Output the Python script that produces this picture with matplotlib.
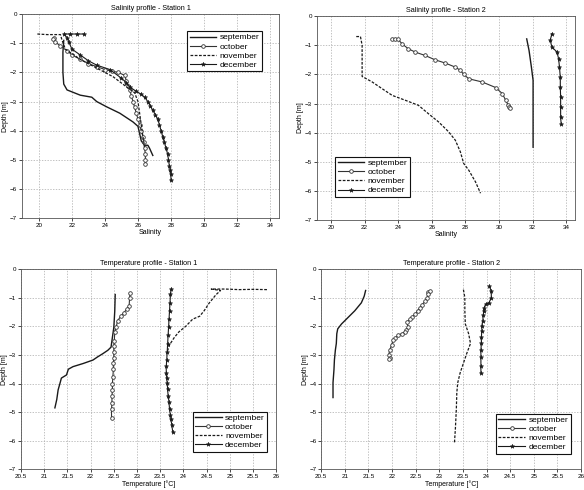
import matplotlib.pyplot as plt

plt.rcParams['font.family'] = ['Liberation Sans', 'DejaVu Sans']

MONTHS = ["september", "october", "november", "december"]

# Salinity profile - Station 1 (salinity, depth)
sal1_sep_x = [21.5, 21.45, 21.45, 21.5, 21.7, 22.5, 23.2, 23.5, 24.1, 24.9, 25.7, 26.0, 26.1, 26.2, 26.4, 26.6, 26.7, 26.9]
sal1_sep_d = [-0.9, -1.3, -2.0, -2.4, -2.6, -2.78, -2.85, -3.0, -3.18, -3.4, -3.7, -3.85, -4.1, -4.35, -4.5, -4.5, -4.6, -4.85]
sal1_oct_x = [20.9, 20.85, 21.0, 21.3, 21.7, 22.0, 22.5, 23.0, 23.5, 24.0, 24.4, 24.8, 25.2, 25.3, 25.4, 25.5, 25.6, 25.7, 25.8, 25.9, 26.0, 26.1, 26.2, 26.3, 26.35, 26.4, 26.45, 26.45, 26.45]
sal1_oct_d = [-0.8, -0.85, -0.95, -1.1, -1.25, -1.4, -1.55, -1.7, -1.8, -1.9, -1.95, -2.0, -2.1, -2.3, -2.45, -2.6, -2.8, -3.0, -3.2, -3.4, -3.6, -3.8, -4.0, -4.2, -4.4, -4.6, -4.8, -5.0, -5.15]
sal1_nov_x = [19.9, 20.5, 21.0, 21.3, 21.4, 21.6, 22.5, 23.5, 24.5, 25.2, 25.8, 26.0, 26.1, 26.2, 26.3, 26.4]
sal1_nov_d = [-0.68, -0.7, -0.7, -0.7, -0.9, -1.2, -1.55, -1.85, -2.15, -2.45, -2.7, -3.0, -3.4, -3.8, -4.2, -4.55]
sal1_dec_x = [22.7, 22.3, 21.9, 21.5, 21.7, 21.8, 22.0, 22.5, 23.0, 23.5, 24.3, 25.0, 25.3, 25.5, 25.9, 26.2, 26.4, 26.6, 26.75, 26.9, 27.05, 27.2, 27.3, 27.4, 27.5, 27.6, 27.7, 27.8, 27.85, 27.9, 27.95, 28.0, 28.0]
sal1_dec_d = [-0.68, -0.68, -0.68, -0.68, -0.8, -0.95, -1.2, -1.4, -1.6, -1.75, -1.9, -2.2, -2.35, -2.5, -2.65, -2.75, -2.85, -3.0, -3.15, -3.3, -3.45, -3.6, -3.8, -4.0, -4.2, -4.4, -4.6, -4.8, -5.0, -5.2, -5.35, -5.5, -5.7]

# Salinity profile - Station 2
sal2_sep_x = [31.65, 31.79, 31.93, 32.03, 32.03, 32.03]
sal2_sep_d = [-0.78, -1.18, -1.75, -2.2, -2.89, -4.5]
sal2_oct_x = [23.6, 23.8, 24.0, 24.23, 24.6, 25.0, 25.6, 26.2, 26.8, 27.4, 27.7, 27.9, 28.2, 29.0, 29.8, 30.2, 30.4, 30.55, 30.6, 30.65]
sal2_oct_d = [-0.8, -0.78, -0.8, -0.95, -1.12, -1.23, -1.35, -1.5, -1.61, -1.75, -1.86, -2.0, -2.15, -2.26, -2.45, -2.66, -2.89, -3.06, -3.12, -3.17]
sal2_nov_x = [21.5, 21.75, 21.85, 21.85, 21.85, 22.45, 23.04, 23.64, 24.43, 25.2, 25.8, 26.4, 27.0, 27.4, 27.7, 27.9, 28.2, 28.6, 28.9]
sal2_nov_d = [-0.7, -0.7, -1.0, -1.5, -2.07, -2.26, -2.49, -2.72, -2.89, -3.06, -3.35, -3.63, -3.97, -4.26, -4.66, -5.06, -5.29, -5.69, -6.08]
sal2_dec_x = [33.15, 33.05, 33.15, 33.45, 33.55, 33.6, 33.65, 33.65, 33.67, 33.67, 33.67, 33.7]
sal2_dec_d = [-0.6, -0.83, -1.06, -1.23, -1.46, -1.75, -2.09, -2.43, -2.77, -3.12, -3.46, -3.69]

# Temperature profile - Station 1 (temperature, depth)
tem1_sep_x = [22.53, 22.52, 22.5, 22.47, 22.44, 22.37, 22.26, 22.15, 22.05, 21.84, 21.62, 21.52, 21.48, 21.37, 21.34, 21.3, 21.27, 21.23]
tem1_sep_d = [-0.89, -1.47, -2.04, -2.38, -2.73, -2.84, -2.96, -3.07, -3.18, -3.3, -3.41, -3.5, -3.7, -3.81, -3.99, -4.22, -4.56, -4.85]
tem1_oct_x = [22.85, 22.84, 22.83, 22.78, 22.72, 22.65, 22.58, 22.55, 22.52, 22.51, 22.5, 22.5, 22.5, 22.49, 22.49, 22.48, 22.47, 22.47, 22.46, 22.46, 22.45, 22.45]
tem1_oct_d = [-0.84, -1.0, -1.29, -1.4, -1.52, -1.65, -1.81, -2.04, -2.21, -2.5, -2.7, -2.9, -3.1, -3.3, -3.5, -3.76, -4.0, -4.22, -4.45, -4.67, -4.9, -5.19]
tem1_nov_x = [25.8, 25.5, 25.2, 24.9, 24.6, 24.8, 24.7, 24.55, 24.45, 24.35, 24.2, 24.05, 23.9, 23.8, 23.7, 23.66]
tem1_nov_d = [-0.72, -0.71, -0.72, -0.7, -0.7, -0.75, -0.9, -1.2, -1.45, -1.65, -1.75, -2.0, -2.2, -2.4, -2.65, -2.85]
tem1_dec_x = [23.74, 23.72, 23.71, 23.7, 23.69, 23.68, 23.67, 23.66, 23.65, 23.64, 23.63, 23.63, 23.64, 23.65, 23.66, 23.67, 23.69, 23.7, 23.72, 23.73, 23.75, 23.77]
tem1_dec_d = [-0.69, -0.89, -1.2, -1.47, -1.75, -2.04, -2.3, -2.61, -2.9, -3.18, -3.4, -3.64, -3.8, -3.99, -4.2, -4.44, -4.65, -4.9, -5.1, -5.25, -5.45, -5.7]

# Temperature profile - Station 2
tem2_sep_x = [21.44, 21.41, 21.35, 21.21, 21.07, 20.93, 20.85, 20.83, 20.82, 20.8, 20.78, 20.77, 20.75, 20.75]
tem2_sep_d = [-0.75, -0.95, -1.18, -1.46, -1.69, -1.92, -2.09, -2.26, -2.6, -2.83, -3.17, -3.52, -3.97, -4.49]
tem2_oct_x = [22.77, 22.8, 22.77, 22.74, 22.7, 22.64, 22.59, 22.54, 22.49, 22.43, 22.38, 22.31, 22.34, 22.3, 22.27, 22.2, 22.13, 22.07, 22.02, 21.99, 21.95, 21.93, 21.95, 21.93]
tem2_oct_d = [-0.8, -0.78, -0.89, -1.0, -1.12, -1.24, -1.35, -1.46, -1.58, -1.66, -1.75, -1.86, -2.03, -2.12, -2.2, -2.26, -2.32, -2.4, -2.49, -2.66, -2.83, -3.0, -3.1, -3.15]
tem2_nov_x = [23.51, 23.54, 23.54, 23.55, 23.62, 23.66, 23.58, 23.51, 23.44, 23.39, 23.37, 23.36, 23.34, 23.32]
tem2_nov_d = [-0.72, -1.0, -1.46, -1.92, -2.26, -2.6, -2.95, -3.29, -3.63, -3.97, -4.32, -4.89, -5.57, -6.08]
tem2_dec_x = [24.06, 24.1, 24.1, 24.05, 23.98, 23.95, 23.94, 23.93, 23.92, 23.9, 23.9, 23.89, 23.89, 23.88, 23.88, 23.88, 23.88]
tem2_dec_d = [-0.6, -0.78, -1.0, -1.18, -1.23, -1.35, -1.46, -1.62, -1.8, -1.98, -2.15, -2.38, -2.6, -2.83, -3.06, -3.4, -3.63]

SAL_TICKS = [20, 22, 24, 26, 28, 30, 32, 34]
TEMP_TICKS = [20.5, 21, 21.5, 22, 22.5, 23, 23.5, 24, 24.5, 25, 25.5, 26]
TEMP_LABELS = ["20.5", "21", "21.5", "22", "22.5", "23", "23.5", "24", "24.5", "25", "25.5", "26"]
DEPTH_TICKS = [-7, -6, -5, -4, -3, -2, -1, 0]


def draw_panel(ax, series, title, xlabel, legend_loc, legend_anchor):
    styles = [
        dict(color="#1a1a1a", lw=1.0, ls="-"),
        dict(color="#333333", lw=0.8, ls="-", marker="o", ms=2.6, mfc="white", mec="#333333", mew=0.6),
        dict(color="#1a1a1a", lw=0.9, ls=(0, (2.2, 1.2))),
        dict(color="#1a1a1a", lw=0.8, ls="-", marker="*", ms=3.2, mfc="#1a1a1a", mec="#1a1a1a", mew=0.4),
    ]
    for (x, d), st, name in zip(series, styles, MONTHS):
        ax.plot(x, d, label=name, **st)
    ax.set_ylim(-7, 0)
    ax.set_yticks(DEPTH_TICKS)
    ax.grid(True, ls=(0, (2, 2)), color="#aaaaaa", lw=0.5)
    ax.tick_params(labelsize=4.5, length=2, width=0.5, pad=1.5)
    for s in ax.spines.values():
        s.set_linewidth(0.6)
        s.set_color("#555555")
    ax.set_title(title, fontsize=5.2, pad=3)
    ax.set_xlabel(xlabel, fontsize=5, labelpad=0.5)
    ax.set_ylabel("Depth [m]", fontsize=5, labelpad=0.5)
    leg = ax.legend(loc=legend_loc, bbox_to_anchor=legend_anchor, fontsize=6, fancybox=False,
                    framealpha=1, edgecolor="#111111", handlelength=3.2, borderpad=0.3,
                    labelspacing=0.15, handletextpad=0.4, borderaxespad=0)
    leg.get_frame().set_linewidth(0.8)


fig = plt.figure(figsize=(5.84, 4.9), dpi=100)

ax1 = fig.add_axes([0.0377, 0.555, 0.440, 0.416])
draw_panel(ax1, [(sal1_sep_x, sal1_sep_d), (sal1_oct_x, sal1_oct_d), (sal1_nov_x, sal1_nov_d), (sal1_dec_x, sal1_dec_d)],
           "Salinity profile - Station 1", "Salinity", "upper right", (0.934, 0.917))
ax1.set_xlim(18.97, 34.55)
ax1.set_xticks(SAL_TICKS)

ax2 = fig.add_axes([0.543, 0.551, 0.442, 0.416])
draw_panel(ax2, [(sal2_sep_x, sal2_sep_d), (sal2_oct_x, sal2_oct_d), (sal2_nov_x, sal2_nov_d), (sal2_dec_x, sal2_dec_d)],
           "Salinity profile - Station 2", "Salinity", "lower left", (0.07, 0.113))
ax2.set_xlim(19.17, 34.54)
ax2.set_xticks(SAL_TICKS)

ax3 = fig.add_axes([0.036, 0.042, 0.437, 0.409])
draw_panel(ax3, [(tem1_sep_x, tem1_sep_d), (tem1_oct_x, tem1_oct_d), (tem1_nov_x, tem1_nov_d), (tem1_dec_x, tem1_dec_d)],
           "Temperature profile - Station 1", "Temperature [°C]", "lower right", (0.965, 0.088))
ax3.set_xlim(20.5, 26)
ax3.set_xticks(TEMP_TICKS, TEMP_LABELS)

ax4 = fig.add_axes([0.55, 0.042, 0.445, 0.409])
draw_panel(ax4, [(tem2_sep_x, tem2_sep_d), (tem2_oct_x, tem2_oct_d), (tem2_nov_x, tem2_nov_d), (tem2_dec_x, tem2_dec_d)],
           "Temperature profile - Station 2", "Temperature [°C]", "lower right", (0.96, 0.078))
ax4.set_xlim(20.5, 26)
ax4.set_xticks(TEMP_TICKS, TEMP_LABELS)

fig.savefig("out.png", dpi=100)
